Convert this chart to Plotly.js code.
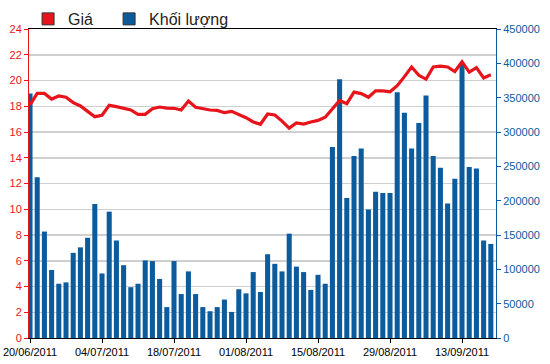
<!DOCTYPE html>
<html>
<head>
<meta charset="utf-8">
<script src="https://cdn.plot.ly/plotly-3.0.1.min.js"></script>
<style>html,body{margin:0;padding:0;background:#fff;}#chart{width:550px;height:364px;}</style>
</head>
<body>
<div id="chart"></div>
<script>
const dates = [
  "20/06/2011","21/06/2011","22/06/2011","23/06/2011","24/06/2011",
  "27/06/2011","28/06/2011","29/06/2011","30/06/2011","01/07/2011",
  "04/07/2011","05/07/2011","06/07/2011","07/07/2011","08/07/2011",
  "11/07/2011","12/07/2011","13/07/2011","14/07/2011","15/07/2011",
  "18/07/2011","19/07/2011","20/07/2011","21/07/2011","22/07/2011",
  "25/07/2011","26/07/2011","27/07/2011","28/07/2011","29/07/2011",
  "01/08/2011","02/08/2011","03/08/2011","04/08/2011","05/08/2011",
  "08/08/2011","09/08/2011","10/08/2011","11/08/2011","12/08/2011",
  "15/08/2011","16/08/2011","17/08/2011","18/08/2011","19/08/2011",
  "22/08/2011","23/08/2011","24/08/2011","25/08/2011","26/08/2011",
  "29/08/2011","30/08/2011","31/08/2011","01/09/2011","05/09/2011",
  "06/09/2011","07/09/2011","08/09/2011","09/09/2011","12/09/2011",
  "13/09/2011","14/09/2011","15/09/2011","16/09/2011","19/09/2011"
];
const price = [
  18.1, 19.0, 19.0, 18.56, 18.8, 18.7, 18.28, 18.02, 17.6, 17.19,
  17.3, 18.07, 17.97, 17.81, 17.71, 17.37, 17.37, 17.81, 17.94, 17.86,
  17.84, 17.71, 18.41, 17.92, 17.81, 17.71, 17.68, 17.5, 17.6, 17.37,
  17.11, 16.78, 16.6, 17.4, 17.32, 16.85, 16.3, 16.7, 16.62, 16.78,
  16.9, 17.15, 17.8, 18.45, 18.2, 19.1, 18.98, 18.7, 19.2, 19.2,
  19.12, 19.6, 20.3, 21.05, 20.4, 20.1, 21.05, 21.12, 21.05, 20.7,
  21.46, 20.65, 21.0, 20.2, 20.45
];
const volume = [
  356000, 234000, 155000, 99000, 79000, 81000, 124000, 132000, 146000, 195000,
  94000, 184000, 142000, 106000, 74000, 79000, 113000, 112000, 86000, 45000,
  112000, 64000, 97000, 64000, 45000, 39000, 45000, 56000, 38000, 71000,
  65000, 96000, 67000, 122000, 108000, 97000, 152000, 104000, 96000, 70000,
  92000, 79000, 278000, 377000, 204000, 265000, 276000, 187000, 213000, 211000,
  211000, 358000, 328000, 276000, 313000, 353000, 265000, 248000, 196000, 232000,
  399000, 249000, 247000, 142000, 137000
];
const tickDates = ["20/06/2011","04/07/2011","18/07/2011","01/08/2011","15/08/2011","29/08/2011","13/09/2011"];
const seriesNames = ["Giá", "Khối lượng"];

const RED = "#e8141b";
const BLUE = "#0b5b9d";
const FONT = "Liberation Sans, Arial, sans-serif";

const traces = [
  {
    type: "bar", x: dates, y: volume, yaxis: "y",
    marker: {color: BLUE, line: {width: 0}},
    showlegend: false, hoverinfo: "skip", cliponaxis: false
  },
  {
    type: "scatter", mode: "lines", x: dates, y: price, yaxis: "y2",
    line: {color: RED, width: 3.2}, showlegend: false, hoverinfo: "skip"
  },
  {
    type: "bar", x: [null], y: [null], name: seriesNames[0], yaxis: "y",
    legend: "legend",
    marker: {color: RED, line: {color: "#333", width: 1}}
  },
  {
    type: "bar", x: [null], y: [null], name: seriesNames[1], yaxis: "y",
    legend: "legend2",
    marker: {color: BLUE, line: {color: "#333", width: 1}}
  }
];

const legendBase = {
  orientation: "h", xanchor: "left", yanchor: "middle", y: 1.0324,
  font: {family: FONT, size: 16, color: "#222"},
  bgcolor: "rgba(0,0,0,0)", itemwidth: 30
};

const layout = {
  width: 550, height: 364,
  margin: {l: 29, r: 54, t: 29, b: 26, pad: 0, autoexpand: false},
  paper_bgcolor: "#fff", plot_bgcolor: "#fff",
  font: {family: FONT, size: 11, color: "#000"},
  barmode: "overlay", bargap: 0.3,
  showlegend: true,
  legend: Object.assign({}, legendBase, {x: -0.002}),
  legend2: Object.assign({}, legendBase, {x: 0.1715}),
  xaxis: {
    type: "category", range: [-0.14, 64.72],
    tickmode: "array", tickvals: tickDates, ticktext: tickDates,
    ticks: "outside", ticklen: 4, tickcolor: "#000",
    showline: true, linecolor: "#000", linewidth: 1, mirror: true,
    showgrid: false, zeroline: false,
    tickfont: {family: FONT, size: 11, color: "#000"}
  },
  yaxis: {
    side: "right", range: [0, 450000], dtick: 50000, tickformat: "d",
    ticks: "outside", ticklen: 4, tickcolor: BLUE,
    showline: true, linecolor: BLUE, linewidth: 1,
    showgrid: false, zeroline: false,
    tickfont: {family: FONT, size: 11, color: BLUE}
  },
  yaxis2: {
    overlaying: "y", side: "left", range: [0, 24], dtick: 2,
    ticks: "outside", ticklen: 4, tickcolor: RED,
    showline: true, linecolor: RED, linewidth: 1,
    showgrid: true, gridcolor: "#cfcfcf", gridwidth: 1.5,
    zeroline: false,
    tickfont: {family: FONT, size: 11, color: RED}
  }
};

Plotly.newPlot("chart", traces, layout, {displayModeBar: false, staticPlot: true});
</script>
</body>
</html>
